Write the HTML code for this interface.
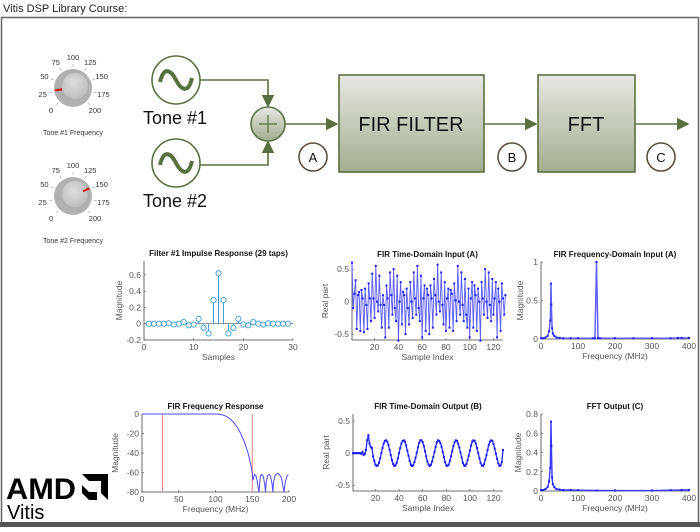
<!DOCTYPE html>
<html><head><meta charset="utf-8"><style>
body{margin:0;background:#fff;width:700px;height:527px;overflow:hidden;font-family:"Liberation Sans",sans-serif}
svg text{font-family:"Liberation Sans",sans-serif}
</style></head><body>
<svg id="s" width="700" height="527" viewBox="0 0 700 527" xmlns="http://www.w3.org/2000/svg">
<defs>
<linearGradient id="gb" x1="0" y1="0" x2="0" y2="1"><stop offset="0" stop-color="#e6e8e2"/><stop offset="1" stop-color="#a3ae90"/></linearGradient>
<radialGradient id="gk" cx="0.45" cy="0.4" r="0.6"><stop offset="0" stop-color="#dedede"/><stop offset="1" stop-color="#bdbdbd"/></radialGradient>
<marker id="ar" markerWidth="8" markerHeight="8" refX="7" refY="4" orient="auto"><path d="M0,0 L8,4 L0,8z" fill="#5a7040"/></marker>
</defs>
<text x="3" y="12" font-size="11" fill="#222">Vitis DSP Library Course:</text>
<rect x="1.5" y="17.5" width="697" height="506" fill="none" stroke="#666" stroke-width="1.5"/>
<rect x="0" y="522" width="700" height="5" fill="#555"/>
<g id="knobs"></g>
<g stroke="#5a7040" fill="none" stroke-width="1.6">
<circle cx="176" cy="80" r="24" fill="#fff"/>
<path d="M160,82 C164,64 172,72 176,80 C180,88 188,96 192,78" stroke-width="4"/>
<circle cx="176" cy="163" r="24" fill="#fff"/>
<path d="M160,165 C164,147 172,155 176,163 C180,171 188,179 192,161" stroke-width="4"/>
<path d="M200,80 H268 V106" marker-end="url(#ar)"/>
<path d="M200,165 H268 V142" marker-end="url(#ar)"/>
<circle cx="268" cy="124" r="17" fill="url(#gb)"/>
<path d="M259,124 H277 M268,115 V133" stroke-width="1.2"/>
<path d="M285,124 H337" marker-end="url(#ar)"/>
<rect x="339" y="75" width="145" height="97" fill="url(#gb)"/>
<path d="M484,124 H536" marker-end="url(#ar)"/>
<rect x="538" y="75" width="97" height="97" fill="url(#gb)"/>
<path d="M635,124 H688" marker-end="url(#ar)"/>
<circle cx="313" cy="157" r="14" fill="#fff" stroke="#5b5040"/>
<circle cx="512" cy="157" r="14" fill="#fff" stroke="#5b5040"/>
<circle cx="661" cy="157" r="14" fill="#fff" stroke="#5b5040"/>
</g>
<g fill="#111" font-size="18">
<text x="143" y="124">Tone #1</text>
<text x="143" y="207">Tone #2</text>
<text x="411" y="131" text-anchor="middle" font-size="20">FIR FILTER</text>
<text x="586" y="131" text-anchor="middle" font-size="20">FFT</text>
<text x="313" y="162" text-anchor="middle" font-size="13">A</text>
<text x="512" y="162" text-anchor="middle" font-size="13">B</text>
<text x="661" y="162" text-anchor="middle" font-size="13">C</text>
</g>
<g>
<text x="6" y="499" font-size="30" font-weight="bold" fill="#000" textLength="70" lengthAdjust="spacingAndGlyphs">AMD</text>
<path d="M82,474 H108 V500 L101,493 V481 H89 Z M82,485 L89,492 H97 V500 H89 L82,493 Z" fill="#000"/>
<text x="7" y="519" font-size="20" fill="#000">Vitis</text>
</g>
<g id="charts"></g>
</svg>
<script>
// ---------- chart data ----------
const impulseTaps = [1,2,3,4,5,6,7,8,9,10,11,12,13,14,15,16,17,18,19,20,21,22,23,24,25,26,27,28,29];
const impulseValues = [0,0,0,0,0.005,-0.01,0,0.02,-0.02,-0.01,0.06,-0.05,-0.12,0.29,0.62,0.29,-0.12,-0.05,0.06,-0.01,-0.02,0.02,0,-0.01,0.005,0,0,0,0];
const inputValues = [0.6,-0.1,0.12,0.33,-0.42,0.1,0.15,-0.45,0.18,0.05,-0.47,0.2,-0.05,-0.42,0.28,0.05,-0.3,0.43,0.05,-0.25,0.55,0.0,-0.15,0.4,-0.05,-0.4,0.1,-0.05,-0.55,0.25,0.05,-0.4,0.45,0.1,-0.2,0.5,-0.1,-0.3,0.4,-0.6,0.0,0.3,-0.35,0.15,0.1,-0.5,0.2,-0.1,-0.35,0.3,0.0,-0.25,0.45,0.05,-0.2,0.55,-0.1,-0.3,0.4,-0.55,0.05,0.25,-0.45,0.2,0.1,-0.5,0.25,0.05,-0.4,0.35,0.1,-0.2,0.57,0.0,-0.15,0.45,-0.05,-0.35,0.3,-0.45,0.05,0.2,-0.4,0.18,0.12,-0.45,0.28,0.02,-0.3,0.55,0.0,-0.2,0.45,-0.05,-0.3,0.35,-0.2,-0.4,0.2,-0.55,0.05,0.3,-0.4,0.25,0.1,-0.45,0.2,0.0,-0.6,0.3,0.05,-0.2,0.5,0.0,-0.25,0.45,-0.05,-0.3,0.35,-0.2,0.05,0.3,-0.55,0.2,0.0,-0.45,0.28,0.05,-0.2,0.1];
const outputValues = [0,0,0,0,0,0,0,-0.01,0.02,-0.03,-0.01,0.05,0.2,0.28,0.15,0.1,0.08,-0.05,-0.12,-0.18,-0.2,-0.19,-0.15,-0.08,0.0,0.08,0.15,0.19,0.2,0.18,0.13,0.05,-0.03,-0.11,-0.17,-0.2,-0.19,-0.15,-0.08,0.0,0.08,0.15,0.19,0.2,0.18,0.12,0.04,-0.04,-0.12,-0.18,-0.2,-0.19,-0.14,-0.07,0.01,0.09,0.16,0.2,0.2,0.17,0.11,0.03,-0.05,-0.13,-0.18,-0.2,-0.18,-0.13,-0.06,0.02,0.1,0.17,0.2,0.19,0.16,0.1,0.02,-0.06,-0.14,-0.19,-0.2,-0.18,-0.12,-0.05,0.03,0.11,0.17,0.2,0.19,0.15,0.09,0.01,-0.07,-0.15,-0.19,-0.2,-0.17,-0.11,-0.04,0.04,0.12,0.18,0.2,0.19,0.15,0.08,0.0,-0.08,-0.15,-0.19,-0.2,-0.17,-0.1,-0.03,0.05,0.13,0.18,0.2,0.19,0.14,0.07,-0.01,-0.09,-0.16,-0.2,-0.19,-0.14,0.05];
const fftInFreq = [0,6,12,18,22,25,27,28,30,32,36,42,50,60,80,100,140,146,150,154,160,200,250,300,350,370,380,400];
const fftInMag = [0.01,0.01,0.02,0.04,0.1,0.24,0.72,0.45,0.14,0.07,0.04,0.02,0.015,0.01,0.01,0.01,0.01,0.01,1.0,0.01,0.01,0.01,0.01,0.01,0.01,0.015,0.015,0.015];
const fftOutFreq = [0,6,12,18,22,25,27,28,30,32,36,42,50,60,80,100,150,200,300,350,380,400];
const fftOutMag = [0.01,0.01,0.02,0.04,0.1,0.24,0.72,0.47,0.14,0.07,0.04,0.02,0.015,0.01,0.01,0.008,0.005,0.004,0.004,0.008,0.01,0.01];
const respFreq = [0,20,40,60,80,100,105,110,115,120,125,130,135,140,145,150,151,153,155,157,159,160,161,163,165,167,168,169,171,173,175,177,178,179,181,184,187,190,193,195,197,199];
const respDb = [0,0,0,0,0,0,-0.3,-1,-2.5,-5,-9,-14,-21,-30,-42,-60,-68,-62,-63,-70,-80,-72,-64,-62,-64,-72,-80,-70,-63,-62,-64,-72,-80,-70,-63,-61,-62,-66,-80,-70,-64,-62];
const respMarkers = [28,150];
// ---------- helpers ----------
const NS='http://www.w3.org/2000/svg';
const root=document.getElementById('charts');
function mk(tag,attrs,parent){const e=document.createElementNS(NS,tag);for(const k in attrs)e.setAttribute(k,attrs[k]);(parent||root).appendChild(e);return e;}
function txt(x,y,s,size,parent,extra){const t=mk('text',Object.assign({x:x,y:y,'font-size':size,fill:'#555','text-anchor':'middle'},extra||{}),parent);t.textContent=s;return t;}
function axes(o){
  const g=mk('g',{});
  
  
  const sx=v=>o.x0+(v-o.xmin)/(o.xmax-o.xmin)*(o.x1-o.x0);
  const sy=v=>o.y1-(v-o.ymin)/(o.ymax-o.ymin)*(o.y1-o.y0);
  mk('rect',{x:o.x0,y:o.y0,width:o.x1-o.x0,height:o.y1-o.y0,fill:'#fff',stroke:'none'},g);
  mk('path',{d:`M${o.x0},${o.y0}V${o.y1}H${o.x1}`,stroke:'#444',fill:'none','stroke-width':0.8},g);
  o.xt.forEach(v=>{mk('line',{x1:sx(v),x2:sx(v),y1:o.y1,y2:o.y1-2,stroke:'#444','stroke-width':0.6},g);const t=txt(sx(v),o.y1+10,String(v),8.5,g);});
  o.yt.forEach(v=>{mk('line',{x1:o.x0,x2:o.x0+2,y1:sy(v),y2:sy(v),stroke:'#444','stroke-width':0.6},g);const t=txt(o.x0-3,sy(v)+3,String(v),8.5,g,{'text-anchor':'end'});});
  const tt=txt((o.x0+o.x1)/2,o.y0-5,o.title,8,g,{fill:'#111','font-weight':'bold'});
  
  const xl=txt((o.x0+o.x1)/2,o.y1+20,o.xlabel,8.5,g);
  
  const yx=o.x0-o.ylabOff, yy=(o.y0+o.y1)/2;
  const yl=txt(yx,yy,o.ylabel,8.5,g,{transform:`rotate(-90 ${yx} ${yy})`});
  
  return {g,sx,sy};
}
function line(a,xs,ys,color,w,dots,name){
  let d='';xs.forEach((x,i)=>{d+=(i?'L':'M')+a.sx(x).toFixed(1)+','+a.sy(ys[i]).toFixed(1);});
  const p=mk('path',{d:d,stroke:color,fill:'none','stroke-width':w},a.g);
  
  if(dots)xs.forEach((x,i)=>{const c=mk('rect',{x:a.sx(x)-1,y:a.sy(ys[i])-1,width:2,height:2,fill:'#1a1aff'},a.g);});
}
// 1 impulse
(function(){
  const a=axes({name:'impulse-response-chart',x0:144,x1:293,y0:261,y1:340,xmin:0,xmax:30,ymin:-0.2,ymax:0.77,xt:[0,10,20,30],yt:[-0.2,0,0.2,0.4,0.6],title:'Filter #1 Impulse Response (29 taps)',xlabel:'Samples',ylabel:'Magnitude',ylabOff:22});
  mk('line',{x1:144,x2:293,y1:a.sy(0),y2:a.sy(0),stroke:'#555','stroke-width':0.7},a.g);
  impulseTaps.forEach((t,i)=>{
    const s=mk('line',{x1:a.sx(t),x2:a.sx(t),y1:a.sy(0),y2:a.sy(impulseValues[i]),stroke:'#3a9ad9','stroke-width':1},a.g);
    
    const c=mk('circle',{cx:a.sx(t),cy:a.sy(impulseValues[i]),r:2.6,fill:'#fff',stroke:'#3a9ad9','stroke-width':0.9},a.g);
    
  });
})();
// 2 input
(function(){
  const a=axes({name:'fir-input-time-chart',x0:352,x1:503,y0:262,y1:340,xmin:1,xmax:128,ymin:-0.59,ymax:0.61,xt:[20,40,60,80,100,120],yt:[-0.5,0,0.5],title:'FIR Time-Domain Input (A)',xlabel:'Sample Index',ylabel:'Real part',ylabOff:24});
  line(a,inputValues.map((v,i)=>i+1),inputValues,'#5a5aff',0.9,true,'input-series');
})();
// 3 fft in
(function(){
  const a=axes({name:'fir-input-freq-chart',x0:541,x1:689,y0:262,y1:339,xmin:0,xmax:400,ymin:0,ymax:1,xt:[0,100,200,300,400],yt:[0,0.5,1],title:'FIR Frequency-Domain Input (A)',xlabel:'Frequency (MHz)',ylabel:'Magnitude',ylabOff:18});
  line(a,fftInFreq,fftInMag,'#5a5aff',1.4,true,'fft-input-series');
})();
// 4 response
(function(){
  const a=axes({name:'fir-frequency-response-chart',x0:142,x1:289,y0:414,y1:492,xmin:0,xmax:200,ymin:-80,ymax:0,xt:[0,50,100,150,200],yt:[-80,-60,-40,-20,0],title:'FIR Frequency Response',xlabel:'Frequency (MHz)',ylabel:'Magnitude',ylabOff:24});
  respMarkers.forEach(f=>{const l=mk('line',{x1:a.sx(f),x2:a.sx(f),y1:414,y2:492,stroke:'#f08080','stroke-width':1},a.g);});
  line(a,respFreq,respDb,'#4a4aff',1,false,'response-curve');
})();
// 5 output
(function(){
  const a=axes({name:'fir-output-time-chart',x0:353,x1:503,y0:414,y1:491,xmin:1,xmax:128,ymin:-0.59,ymax:0.61,xt:[20,40,60,80,100,120],yt:[-0.5,0,0.5],title:'FIR Time-Domain Output (B)',xlabel:'Sample Index',ylabel:'Real part',ylabOff:24});
  line(a,outputValues.map((v,i)=>i+1),outputValues,'#2a2aff',1.3,true,'output-series');
})();
// 6 fft out
(function(){
  const a=axes({name:'fft-output-chart',x0:541,x1:689,y0:414,y1:491,xmin:0,xmax:400,ymin:0,ymax:0.8,xt:[0,100,200,300,400],yt:[0,0.2,0.4,0.6,0.8],title:'FFT Output (C)',xlabel:'Frequency (MHz)',ylabel:'Magnitude',ylabOff:20});
  line(a,fftOutFreq,fftOutMag,'#3a3aff',1.4,true,'fft-output-series');
})();
// knobs
const knobValues=[28,148];
const knobLabels=[0,25,50,75,100,125,150,175,200];
const kg=document.getElementById('knobs');
[[73,88,'Tone #1 Frequency'],[73,196,'Tone #2 Frequency']].forEach((k,idx)=>{
  const [cx,cy,lab]=k;
  const g=mk('g',{},kg);
  
  
  const ang=v=>(225-v/200*270)*Math.PI/180;
  knobLabels.forEach(v=>{const a=ang(v);
    mk('line',{x1:cx+21*Math.cos(a),y1:cy-21*Math.sin(a),x2:cx+24*Math.cos(a),y2:cy-24*Math.sin(a),stroke:'#999','stroke-width':0.6},g);
    txt(cx+31*Math.cos(a),cy-31*Math.sin(a)+3,String(v),7.5,g,{fill:'#333'});});
  mk('circle',{cx:cx,cy:cy,r:19,fill:'#b0b0b0'},g);
  mk('circle',{cx:cx+2,cy:cy-2,r:13,fill:'url(#gk)'},g);
  const a=ang(knobValues[idx]);
  mk('line',{x1:cx+11*Math.cos(a),y1:cy-11*Math.sin(a),x2:cx+18*Math.cos(a),y2:cy-18*Math.sin(a),stroke:'#d02020','stroke-width':2.2},g);
  txt(cx,cy+47,lab,7,g,{fill:'#333'});
});
</script>
</body></html>
